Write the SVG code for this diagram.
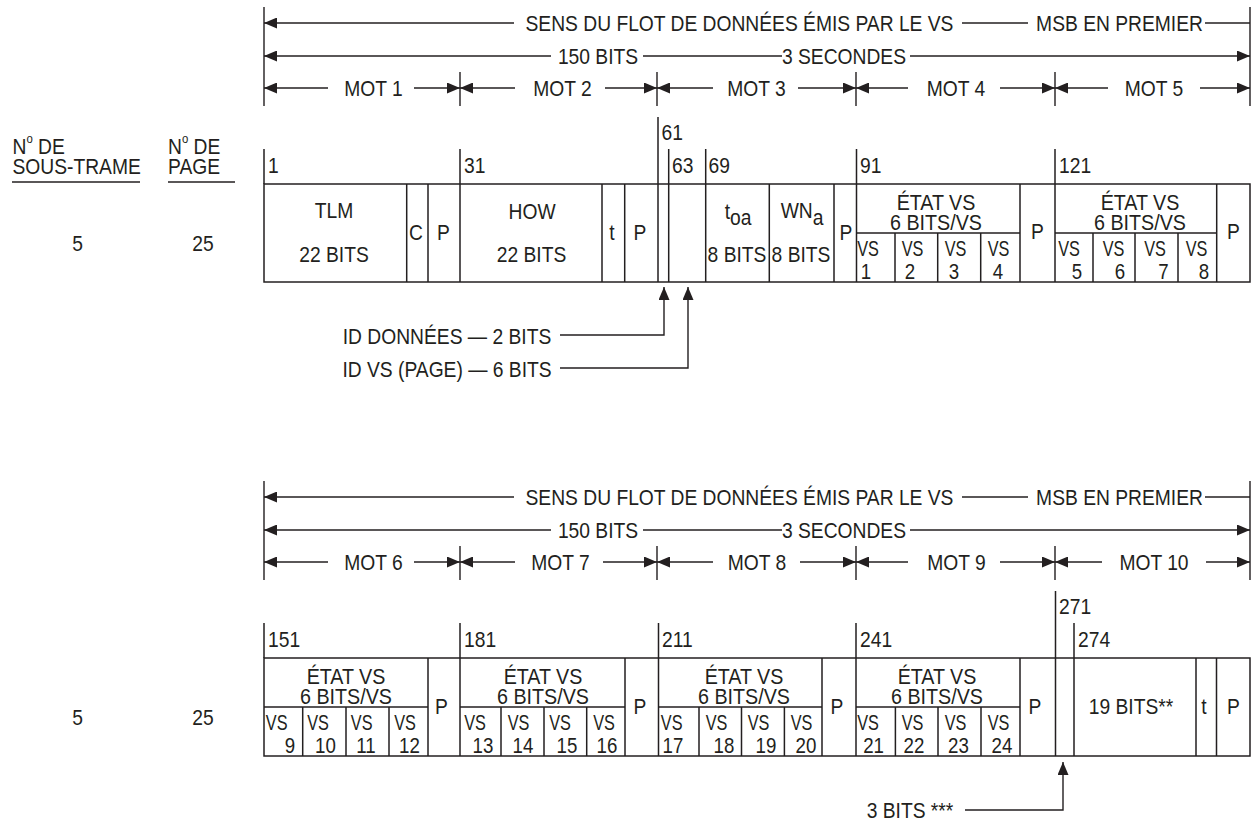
<svg xmlns="http://www.w3.org/2000/svg" width="1254" height="824" viewBox="0 0 1254 824">
<style>
text{font-family:"Liberation Sans",Arial,sans-serif;font-size:22px;fill:#231f20;text-anchor:middle;transform-box:fill-box;transform-origin:center;transform:scaleX(.875)}
text.st{text-anchor:start;transform-origin:left center}
text.et{font-size:22.5px}
text.vs{font-size:22px;transform:scaleX(.74)}
text.dg{font-size:22px;transform:scaleX(.85)}
.l{stroke:#231f20;stroke-width:1.4;fill:none}
.f{stroke:#231f20;stroke-width:1.5;fill:none}
</style>
<defs>
<marker id="ah" viewBox="0 0 13 11" refX="13" refY="5.5" markerWidth="13" markerHeight="11" markerUnits="userSpaceOnUse" orient="auto-start-reverse"><path d="M0,0 L13,5.5 L0,11 z" fill="#231f20"/></marker>
</defs>

<g id="legend">
<text class="st" x="12.5" y="154">N<tspan font-size="13" dy="-11">o</tspan><tspan dy="11"> DE</tspan></text>
<text class="st" x="12.5" y="174">SOUS-TRAME</text>
<line class="l" x1="12" y1="182" x2="140" y2="182"/>
<text class="st" x="168" y="154">N<tspan font-size="13" dy="-11">o</tspan><tspan dy="11"> DE</tspan></text>
<text class="st" x="168" y="174">PAGE</text>
<line class="l" x1="168" y1="182" x2="235" y2="182"/>
</g>

<g id="row1-ids">
<text x="77.5" y="251">5</text>
<text x="203" y="251">25</text>
</g>
<g id="row2-ids">
<text x="77.5" y="725">5</text>
<text x="203" y="725">25</text>
</g>

<g id="header-top">
<path class="l" d="M264 7V106 M1250 7V106 M460 72V106 M657 72V106 M856 72V106 M1055 72V106"/>
<line class="l" x1="264" y1="23" x2="514" y2="23" marker-start="url(#ah)"/>
<text x="739.5" y="31">SENS DU FLOT DE DONNÉES ÉMIS PAR LE VS</text>
<line class="l" x1="962" y1="23" x2="1028" y2="23"/>
<text x="1119.5" y="31">MSB EN PREMIER</text>
<line class="l" x1="1205" y1="23" x2="1250" y2="23"/>
<line class="l" x1="264" y1="56" x2="551" y2="56" marker-start="url(#ah)"/>
<text x="598" y="64">150 BITS</text>
<line class="l" x1="643" y1="56" x2="782" y2="56"/>
<text x="844" y="64">3 SECONDES</text>
<line class="l" x1="910" y1="56" x2="1250" y2="56" marker-end="url(#ah)"/>
<line class="l" x1="264" y1="88" x2="328" y2="88" marker-start="url(#ah)"/>
<text x="373.5" y="96">MOT 1</text>
<line class="l" x1="414" y1="88" x2="460" y2="88" marker-end="url(#ah)"/>
<line class="l" x1="460" y1="88" x2="515" y2="88" marker-start="url(#ah)"/>
<text x="562.5" y="96">MOT 2</text>
<line class="l" x1="605" y1="88" x2="657" y2="88" marker-end="url(#ah)"/>
<line class="l" x1="657" y1="88" x2="713" y2="88" marker-start="url(#ah)"/>
<text x="756.5" y="96">MOT 3</text>
<line class="l" x1="798" y1="88" x2="856" y2="88" marker-end="url(#ah)"/>
<line class="l" x1="856" y1="88" x2="908" y2="88" marker-start="url(#ah)"/>
<text x="956" y="96">MOT 4</text>
<line class="l" x1="1000" y1="88" x2="1055" y2="88" marker-end="url(#ah)"/>
<line class="l" x1="1055" y1="88" x2="1108" y2="88" marker-start="url(#ah)"/>
<text x="1154" y="96">MOT 5</text>
<line class="l" x1="1200" y1="88" x2="1250" y2="88" marker-end="url(#ah)"/>
</g>

<g id="frame-top">
<rect class="f" x="264" y="184" width="986" height="98"/>
<path class="f" d="M264 149V184 M460 149V282 M658 117V282 M668.7 149V282 M705.7 149V282 M856.5 149V282 M1055 149V282"/>
<path class="f" d="M406.7 184V282 M428 184V282 M602 184V282 M624.7 184V282 M769.3 184V282 M834 184V282 M1020 184V282 M1216.7 184V282 M856.5 233H1020 M1055 233H1216.7 M895 233V282 M937.7 233V282 M980.7 233V282 M1093 233V282 M1135 233V282 M1178 233V282"/>
<text class="st" x="268" y="173">1</text>
<text class="st" x="464" y="173">31</text>
<text class="st" x="661.5" y="140">61</text>
<text class="st" x="672" y="173">63</text>
<text class="st" x="708.5" y="173">69</text>
<text class="st" x="860" y="173">91</text>
<text class="st" x="1059" y="173">121</text>
<text x="334" y="218">TLM</text>
<text x="334" y="262">22 BITS</text>
<text x="416" y="240">C</text>
<text x="443.5" y="240">P</text>
<text x="532" y="219">HOW</text>
<text x="531.5" y="262">22 BITS</text>
<text x="612" y="240">t</text>
<text x="640" y="240">P</text>
<text x="738" y="219">t<tspan dy="6">oa</tspan></text>
<text x="737" y="262">8 BITS</text>
<text x="802" y="218">WN<tspan dy="7">a</tspan></text>
<text x="801" y="262">8 BITS</text>
<text x="846" y="240">P</text>
<text class="et" x="936" y="210">ÉTAT VS</text>
<text class="et" x="936" y="230.5">6 BITS/VS</text>
<text x="1037.5" y="239">P</text>
<text class="et" x="1140" y="210">ÉTAT VS</text>
<text class="et" x="1140" y="230.5">6 BITS/VS</text>
<text x="1233.5" y="239">P</text>
<text class="vs" x="868" y="256">VS</text><text class="dg" x="866" y="279">1</text>
<text class="vs" x="912.5" y="256">VS</text><text class="dg" x="910" y="279">2</text>
<text class="vs" x="955.5" y="256">VS</text><text class="dg" x="954" y="279">3</text>
<text class="vs" x="998.5" y="256">VS</text><text class="dg" x="998" y="279">4</text>
<text class="vs" x="1069" y="256">VS</text><text class="dg" x="1077" y="279">5</text>
<text class="vs" x="1113.5" y="256">VS</text><text class="dg" x="1120" y="279">6</text>
<text class="vs" x="1155" y="256">VS</text><text class="dg" x="1163.5" y="279">7</text>
<text class="vs" x="1196.5" y="256">VS</text><text class="dg" x="1204" y="279">8</text>
</g>

<g id="callouts-top">
<text x="447" y="344">ID DONNÉES — 2 BITS</text>
<text x="447" y="377">ID VS (PAGE) — 6 BITS</text>
</g>

<g id="header-bottom" transform="translate(0,474)">
<path class="l" d="M264 7V106 M1250 7V106 M460 72V106 M657 72V106 M856 72V106 M1055 72V106"/>
<line class="l" x1="264" y1="23" x2="514" y2="23" marker-start="url(#ah)"/>
<text x="739.5" y="31">SENS DU FLOT DE DONNÉES ÉMIS PAR LE VS</text>
<line class="l" x1="962" y1="23" x2="1028" y2="23"/>
<text x="1119.5" y="31">MSB EN PREMIER</text>
<line class="l" x1="1205" y1="23" x2="1250" y2="23"/>
<line class="l" x1="264" y1="56" x2="551" y2="56" marker-start="url(#ah)"/>
<text x="598" y="64">150 BITS</text>
<line class="l" x1="643" y1="56" x2="782" y2="56"/>
<text x="844" y="64">3 SECONDES</text>
<line class="l" x1="910" y1="56" x2="1250" y2="56" marker-end="url(#ah)"/>
<line class="l" x1="264" y1="88" x2="328" y2="88" marker-start="url(#ah)"/>
<text x="373.5" y="96">MOT 6</text>
<line class="l" x1="414" y1="88" x2="460" y2="88" marker-end="url(#ah)"/>
<line class="l" x1="460" y1="88" x2="515" y2="88" marker-start="url(#ah)"/>
<text x="560.5" y="96">MOT 7</text>
<line class="l" x1="603" y1="88" x2="657" y2="88" marker-end="url(#ah)"/>
<line class="l" x1="657" y1="88" x2="713" y2="88" marker-start="url(#ah)"/>
<text x="757" y="96">MOT 8</text>
<line class="l" x1="800" y1="88" x2="856" y2="88" marker-end="url(#ah)"/>
<line class="l" x1="856" y1="88" x2="908" y2="88" marker-start="url(#ah)"/>
<text x="956.5" y="96">MOT 9</text>
<line class="l" x1="1000" y1="88" x2="1055" y2="88" marker-end="url(#ah)"/>
<line class="l" x1="1055" y1="88" x2="1102" y2="88" marker-start="url(#ah)"/>
<text x="1154" y="96">MOT 10</text>
<line class="l" x1="1206" y1="88" x2="1250" y2="88" marker-end="url(#ah)"/>
</g>

<g id="frame-bottom">
<rect class="f" x="264" y="658" width="986" height="98"/>
<path class="f" d="M264 623V658 M460 623V756 M658.5 623V756 M856 623V756 M1055.5 591V756 M1074 623V756"/>
<path class="f" d="M428 658V756 M625 658V756 M822 658V756 M1020 658V756 M1196 658V756 M1216.5 658V756 M264 707H428 M460 707H625 M658.5 707H822 M856 707H1020 M302.7 707V756 M346 707V756 M389 707V756 M501 707V756 M544 707V756 M586.7 707V756 M699 707V756 M741.5 707V756 M784.4 707V756 M895.4 707V756 M938 707V756 M981 707V756"/>
<text class="st" x="268" y="647">151</text>
<text class="st" x="464" y="647">181</text>
<text class="st" x="662" y="647">211</text>
<text class="st" x="860" y="647">241</text>
<text class="st" x="1059" y="614">271</text>
<text class="st" x="1078" y="647">274</text>
<text class="et" x="346" y="684">ÉTAT VS</text>
<text class="et" x="346" y="704.5">6 BITS/VS</text>
<text x="441.5" y="714">P</text>
<text class="et" x="543" y="684">ÉTAT VS</text>
<text class="et" x="543" y="704.5">6 BITS/VS</text>
<text x="640" y="714">P</text>
<text class="et" x="744" y="684">ÉTAT VS</text>
<text class="et" x="744" y="704.5">6 BITS/VS</text>
<text x="837" y="714">P</text>
<text class="et" x="937" y="684">ÉTAT VS</text>
<text class="et" x="937" y="704.5">6 BITS/VS</text>
<text x="1035" y="714">P</text>
<text x="1131" y="714">19 BITS**</text>
<text x="1204" y="714">t</text>
<text x="1233.5" y="714">P</text>
<text class="vs" x="276.7" y="730">VS</text><text class="dg" x="290" y="753">9</text>
<text class="vs" x="318" y="730">VS</text><text class="dg" x="325.5" y="753">10</text>
<text class="vs" x="361.7" y="730">VS</text><text class="dg" x="366" y="753">11</text>
<text class="vs" x="405" y="730">VS</text><text class="dg" x="409.5" y="753">12</text>
<text class="vs" x="475" y="730">VS</text><text class="dg" x="483" y="753">13</text>
<text class="vs" x="518.5" y="730">VS</text><text class="dg" x="523" y="753">14</text>
<text class="vs" x="560" y="730">VS</text><text class="dg" x="567" y="753">15</text>
<text class="vs" x="604" y="730">VS</text><text class="dg" x="607" y="753">16</text>
<text class="vs" x="671.7" y="730">VS</text><text class="dg" x="673" y="753">17</text>
<text class="vs" x="716.5" y="730">VS</text><text class="dg" x="724" y="753">18</text>
<text class="vs" x="758.5" y="730">VS</text><text class="dg" x="766" y="753">19</text>
<text class="vs" x="801.5" y="730">VS</text><text class="dg" x="806" y="753">20</text>
<text class="vs" x="868" y="730">VS</text><text class="dg" x="873.6" y="753">21</text>
<text class="vs" x="912.5" y="730">VS</text><text class="dg" x="914" y="753">22</text>
<text class="vs" x="955.5" y="730">VS</text><text class="dg" x="958.5" y="753">23</text>
<text class="vs" x="998.5" y="730">VS</text><text class="dg" x="1002" y="753">24</text>
</g>

<g id="callout-bottom">
<text x="910" y="818">3 BITS ***</text>
</g>

<g id="connectors">
<path class="l" d="M560 335H664V287" marker-end="url(#ah)"/>
<path class="l" d="M560 368H688V287" marker-end="url(#ah)"/>
<path class="l" d="M965 810H1063V762" marker-end="url(#ah)"/>
</g>
</svg>
